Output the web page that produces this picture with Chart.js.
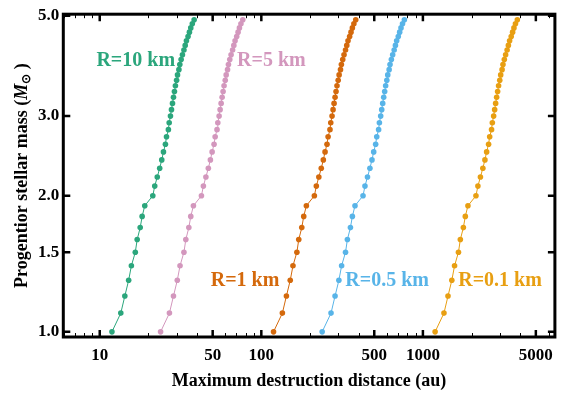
<!DOCTYPE html>
<html><head><meta charset="utf-8">
<script src="https://cdn.jsdelivr.net/npm/chart.js@4/dist/chart.umd.min.js"></script>
<style>html,body{margin:0;padding:0;background:#fff;overflow:hidden}</style>
</head><body>
<canvas id="c" width="561" height="394"></canvas>
<script>
// ---- data ----
const masses = [1.0,1.1,1.2,1.3,1.4,1.5,1.6,1.7,1.8,1.9,2.0,2.1,2.2,2.3,2.4,2.5,2.6,2.7,2.8,2.9,3.0,3.1,3.2,3.3,3.4,3.5,3.6,3.7,3.8,3.9,4.0,4.1,4.2,4.3,4.4,4.5,4.6,4.7,4.8,4.9];
const distR10 = [11.9,13.5,14.3,15.1,15.7,16.6,17.05,17.8,18.3,19.0,21.3,21.9,22.7,23.5,24.2,24.8,25.5,25.9,26.6,26.9,27.4,27.8,28.2,28.6,29.0,29.4,29.9,30.3,30.9,31.3,31.9,32.5,33.2,33.8,34.4,35.2,35.9,36.6,37.4,38.4];
const distR5 = [23.8,27.0,28.6,30.2,31.4,33.2,34.1,35.6,36.6,38.0,42.6,43.8,45.4,47.0,48.4,49.6,51.0,51.8,53.2,53.8,54.8,55.6,56.4,57.2,58.0,58.8,59.8,60.6,61.8,62.6,63.8,65.0,66.4,67.6,68.8,70.4,71.8,73.2,74.8,76.8];
const distR1 = [119,135,143,151,157,166,170.5,178,183,190,213,219,227,235,242,248,255,259,266,269,274,278,282,286,290,294,299,303,309,313,319,325,332,338,344,352,359,366,374,384];
const distR05 = [238,270,286,302,314,332,341,356,366,380,426,438,454,470,484,496,510,518,532,538,548,556,564,572,580,588,598,606,618,626,638,650,664,676,688,704,718,732,748,768];
const distR01 = [1190,1350,1430,1510,1570,1660,1705,1780,1830,1900,2130,2190,2270,2350,2420,2480,2550,2590,2660,2690,2740,2780,2820,2860,2900,2940,2990,3030,3090,3130,3190,3250,3320,3380,3440,3520,3590,3660,3740,3840];
const seriesNames = ['R=10 km','R=5 km','R=1 km','R=0.5 km','R=0.1 km'];
const xTickValues = [10,50,100,500,1000,5000];
const xTickLabels = ['10','50','100','500','1000','5000'];
const xMinorTickValues = [6,7,8,9,20,30,40,60,70,80,90,200,300,400,600,700,800,900,2000,3000,4000,6000];
const yTickValues = [1.0,1.5,2.0,3.0,5.0];
const yTickLabels = ['1.0','1.5','2.0','3.0','5.0'];
const xTitle = 'Maximum destruction distance (au)';
const yTitleParts = ['Progentior stellar mass (', 'M', '\u2299', ' )'];

// ---- styles / layout ----
const colors = ['#2ba67c','#d397bd','#d4690c','#58b4e8','#e89f12'];
const labelAnchors = [[9.54,3.873],[70.8,3.873],[48.6,1.262],[331,1.262],[1655,1.262]];
const serif = "'Liberation Serif','Times New Roman',serif";

const seriesData = [distR10, distR5, distR1, distR05, distR01];
const datasets = seriesData.map((arr, i) => ({
  label: seriesNames[i],
  data: arr.map((d, j) => ({x: d, y: masses[j]})),
  showLine: true,
  borderColor: colors[i],
  backgroundColor: colors[i],
  pointBackgroundColor: colors[i],
  pointBorderWidth: 0,
  pointRadius: 2.8,
  borderWidth: 1,
  clip: false
}));

const decor = {
  id: 'decor',
  afterDraw(chart) {
    const {ctx, chartArea: ca, scales: {x, y}} = chart;
    ctx.save();
    ctx.strokeStyle = '#000';
    ctx.lineCap = 'butt';
    // minor x ticks
    ctx.lineWidth = 1;
    xMinorTickValues.forEach(v => {
      const px = Math.round(x.getPixelForValue(v)) + 0.5;
      if (px < ca.left || px > ca.right) return;
      ctx.beginPath();
      ctx.moveTo(px, ca.bottom); ctx.lineTo(px, ca.bottom - 4);
      ctx.moveTo(px, ca.top); ctx.lineTo(px, ca.top + 4);
      ctx.stroke();
    });
    // major ticks
    ctx.lineWidth = 2.5;
    xTickValues.forEach(v => {
      const px = x.getPixelForValue(v);
      ctx.beginPath();
      ctx.moveTo(px, ca.bottom); ctx.lineTo(px, ca.bottom - 7);
      ctx.moveTo(px, ca.top); ctx.lineTo(px, ca.top + 7);
      ctx.stroke();
    });
    yTickValues.forEach(v => {
      const py = y.getPixelForValue(v);
      ctx.beginPath();
      ctx.moveTo(ca.left, py); ctx.lineTo(ca.left + 7, py);
      ctx.moveTo(ca.right, py); ctx.lineTo(ca.right - 7, py);
      ctx.stroke();
    });
    // frame
    ctx.lineWidth = 3;
    ctx.strokeRect(ca.left, ca.top, ca.right - ca.left, ca.bottom - ca.top);

    // series labels
    ctx.font = "bold 20px " + serif;
    ctx.textAlign = 'left';
    ctx.textBaseline = 'alphabetic';
    seriesNames.forEach((name, i) => {
      ctx.fillStyle = colors[i];
      ctx.fillText(name, x.getPixelForValue(labelAnchors[i][0]), y.getPixelForValue(labelAnchors[i][1]));
    });

    // x title
    ctx.fillStyle = '#000';
    ctx.font = "bold 18px " + serif;
    ctx.textAlign = 'center';
    ctx.textBaseline = 'middle';
    ctx.fillText(xTitle, (ca.left + ca.right) / 2, 381);

    // y title (rotated, mixed styles)
    const fonts = ["bold 18px " + serif, "italic bold 18px " + serif, "bold 12px " + serif, "bold 18px " + serif];
    const offs = [0, 0, 5, 0];
    let widths = yTitleParts.map((t, i) => { ctx.font = fonts[i]; return ctx.measureText(t).width; });
    const total = widths.reduce((a, b) => a + b, 0);
    ctx.translate(22, (ca.top + ca.bottom) / 2);
    ctx.rotate(-Math.PI / 2);
    ctx.textAlign = 'left';
    let cx = -total / 2;
    yTitleParts.forEach((t, i) => {
      ctx.font = fonts[i];
      ctx.fillText(t, cx, offs[i]);
      cx += widths[i];
    });
    ctx.restore();
  }
};

new Chart(document.getElementById('c'), {
  type: 'scatter',
  data: {datasets},
  options: {
    responsive: false,
    animation: false,
    devicePixelRatio: 1,
    layout: {padding: {top: 11, right: 3, left: 0, bottom: 0}},
    plugins: {legend: {display: false}, tooltip: {enabled: false}},
    scales: {
      x: {
        type: 'logarithmic',
        min: 5.95, max: 6560,
        grid: {display: false, drawTicks: false},
        border: {display: false},
        afterBuildTicks: s => { s.ticks = xTickValues.map(v => ({value: v})); },
        afterFit: s => { s.height = 57; },
        ticks: {
          autoSkip: false, maxRotation: 0, padding: 8,
          color: '#000',
          font: {family: serif, size: 17, weight: 'bold'},
          callback: v => { const k = xTickValues.indexOf(v); return k >= 0 ? xTickLabels[k] : ''; }
        }
      },
      y: {
        type: 'logarithmic',
        min: 0.974, max: 5.04,
        grid: {display: false, drawTicks: false},
        border: {display: false},
        afterBuildTicks: s => { s.ticks = yTickValues.map(v => ({value: v})); },
        afterFit: s => { s.width = 63.3; },
        ticks: {
          autoSkip: false, padding: 4,
          color: '#000',
          font: {family: serif, size: 17, weight: 'bold'},
          callback: v => { const k = yTickValues.indexOf(v); return k >= 0 ? yTickLabels[k] : ''; }
        }
      }
    }
  },
  plugins: [decor]
});
</script>
</body></html>
